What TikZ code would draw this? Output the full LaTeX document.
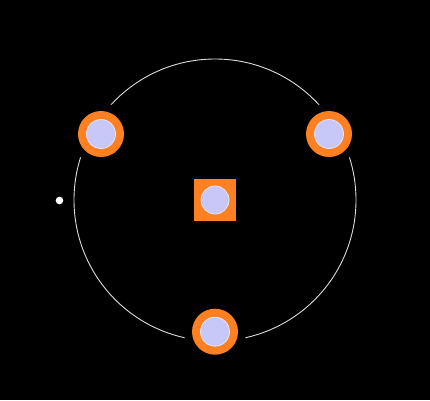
\documentclass[tikz,border=0pt]{standalone}
\begin{document}
\begin{tikzpicture}[x=1pt,y=-1pt,
  padorange/.style={fill=padcol, draw=none},
  padinner/.style={fill=innercol, draw=rimcol, line width=0.8pt},
  ring/.style={draw=ringcol, line width=0.9pt},
  clear/.style={fill=black, draw=none}]
\definecolor{padcol}{RGB}{255,128,32}
\definecolor{innercol}{RGB}{200,200,248}
\definecolor{rimcol}{RGB}{228,228,255}
\definecolor{ringcol}{RGB}{220,220,220}
\fill[black] (0,0) rectangle (430,400);
\useasboundingbox (0,0) rectangle (430,400);
\coordinate (c) at (215,200);
\coordinate (p1) at (101,134);
\coordinate (p2) at (329,134);
\coordinate (p3) at (215,331.7);
% ring with clearance gaps
\draw[ring] (c) circle[radius=141];
\foreach \p in {p1,p2,p3} { \fill[clear] (\p) circle[radius=31]; }
% round pads
\foreach \p in {p1,p2,p3} {
  \fill[padorange] (\p) circle[radius=23];
  \path[padinner] (\p) circle[radius=14.5];
}
% center square pad
\fill[padorange] (193.5,178.5) rectangle (236,221);
\path[padinner] (215,200) circle[radius=14];
% marker dot
\fill[white] (59.5,200.5) circle[radius=3.8];
\end{tikzpicture}
\end{document}
